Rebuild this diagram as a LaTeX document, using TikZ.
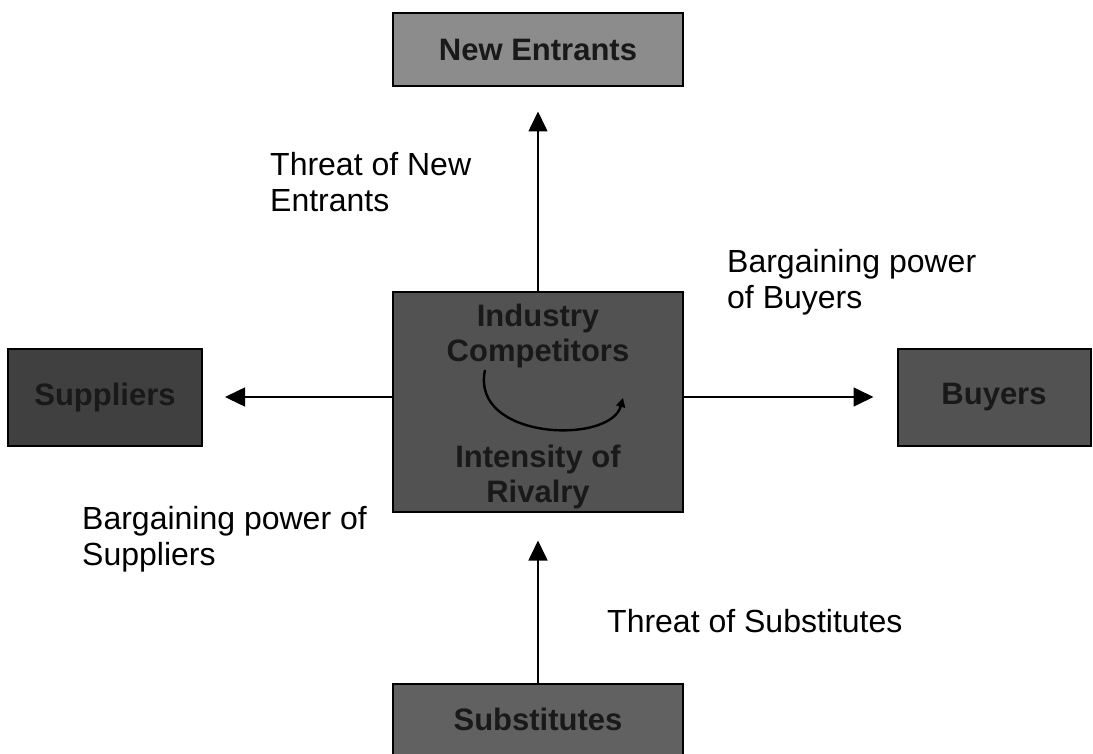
\documentclass[tikz,border=0pt]{standalone}
\usepackage{fontspec}
\setmainfont{Liberation Sans}
\usetikzlibrary{arrows.meta}
\begin{document}
\begin{tikzpicture}[x=1pt,y=-1pt,
  force/.style={draw=black, line width=2pt, inner sep=0pt,
    font=\fontsize{31}{35}\selectfont\bfseries, text=black!90, align=center},
  inside/.style={font=\fontsize{31}{35}\selectfont\bfseries, align=center, text=black!90},
  link/.style={line width=1.6pt, -{Triangle[length=20pt,width=19pt]}},
  caption/.style={font=\fontsize{32}{36}\selectfont, align=left, anchor=west, inner sep=0pt}]
\useasboundingbox (0,0) rectangle (1093,754);
\fill[white] (0,0) rectangle (1093,754);

% five forces boxes
\node[force, fill=black!45, minimum width=290pt, minimum height=73pt] (ne) at (538,50) {New Entrants};
\node[force, fill=black!68, minimum width=290pt, minimum height=219pt] (ic) at (538,402) {};
\node[force, fill=black!75, minimum width=194pt, minimum height=97pt] (su) at (105,397) {Suppliers};
\node[force, fill=black!68, minimum width=193pt, minimum height=97pt] (bu) at (994,397) {Buyers};
\node[force, fill=black!62, minimum width=290pt, minimum height=71pt] (sb) at (538,719) {Substitutes};

% centre box texts and rivalry loop
\node[inside] (t1) at (538,336) {Industry\\Competitors};
\node[inside] (t2) at (538,477) {Intensity of\\Rivalry};
\coordinate (l1) at (485,370);
\coordinate (l2) at (623,398);
\draw[line width=2.4pt, -{Triangle[length=9pt,width=9pt]}] (l1) .. controls (470,440) and (610,445) .. (l2);

% connectors
\draw[link] (ic.north) -- ([yshift=-24pt]ne.south);
\draw[link] (ic.west |- su.east) -- ([xshift=22pt]su.east);
\draw[link] (ic.east |- bu.west) -- ([xshift=-23pt]bu.west);
\draw[link] (sb.north) -- ([yshift=-28pt]ic.south);

% labels
\node[caption] (c1) at (270,182) {Threat of New\\Entrants};
\node[caption] (c2) at (727,282) {Bargaining power\\of Buyers};
\node[caption] (c3) at (82,539) {Bargaining power of\\Suppliers};
\node[caption] (c4) at (607,621) {Threat of Substitutes};
\end{tikzpicture}
\end{document}
